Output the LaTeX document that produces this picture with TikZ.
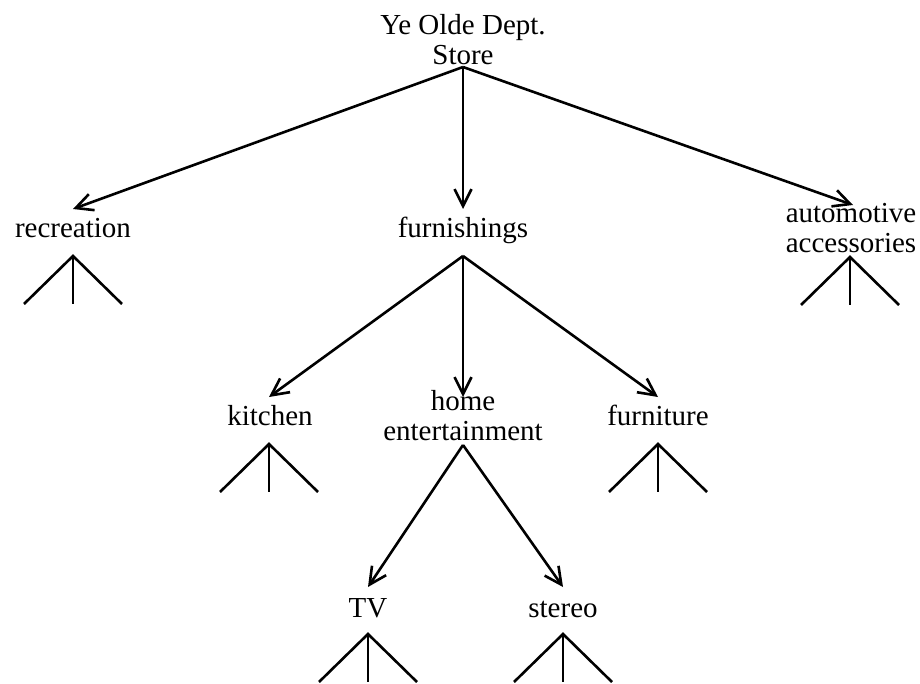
\documentclass[tikz,border=0pt]{standalone}
\usepackage{fontspec}
\setmainfont{Liberation Serif}
\usetikzlibrary{arrows.meta}
\begin{document}
\begin{tikzpicture}[x=0.5pt,y=-0.5pt,
  lbl/.style={font=\fontsize{14.5}{15}\selectfont, inner sep=0pt, anchor=base, align=center},
  arr/.style={line width=1.3pt, -{Straight Barb[length=8.5pt,width=8.5pt,line width=1.3pt]}},
  edgeline/.style={line width=1.3pt},
  tri/.pic={\draw[edgeline] (-49,48) -- (0,0) -- (49,48); \draw[edgeline] (0,0) -- (0,48);}]
\useasboundingbox (0,0) rectangle (920,684);
% labels (base anchor = baseline of last line)
\node[lbl] (root) at (463,65) {Ye Olde Dept.\\Store};
\node[lbl] (rec) at (73,237) {recreation};
\node[lbl] (furn) at (463,237) {furnishings};
\node[lbl] (auto) at (851,252) {automotive\\accessories};
\node[lbl] (kit) at (270,425) {kitchen};
\node[lbl] (home) at (463,440) {home\\entertainment};
\node[lbl] (furni) at (658,425) {furniture};
\node[lbl] (tv) at (368,617) {TV};
\node[lbl] (stereo) at (563,617) {stereo};
% connection points
\coordinate (root-out) at (463,67);
\coordinate (rec-in) at (73,209);
\coordinate (furn-in) at (463,209);
\coordinate (auto-in) at (853,205);
\coordinate (furn-out) at (463,256);
\coordinate (kit-in) at (269,397);
\coordinate (home-in) at (463,397);
\coordinate (furni-in) at (658,397);
\coordinate (home-out) at (463,445);
\coordinate (tv-in) at (368,587);
\coordinate (stereo-in) at (563,587);
% arrows
\draw[arr] (root-out) -- (rec-in);
\draw[arr] (root-out) -- (furn-in);
\draw[arr] (root-out) -- (auto-in);
\draw[arr] (furn-out) -- (kit-in);
\draw[arr] (furn-out) -- (home-in);
\draw[arr] (furn-out) -- (furni-in);
\draw[arr] (home-out) -- (tv-in);
\draw[arr] (home-out) -- (stereo-in);
% subtrees
\pic at (73,256) {tri};
\pic at (850,257) {tri};
\pic at (269,444) {tri};
\pic at (658,444) {tri};
\pic at (368,634) {tri};
\pic at (563,634) {tri};
\end{tikzpicture}
\end{document}
